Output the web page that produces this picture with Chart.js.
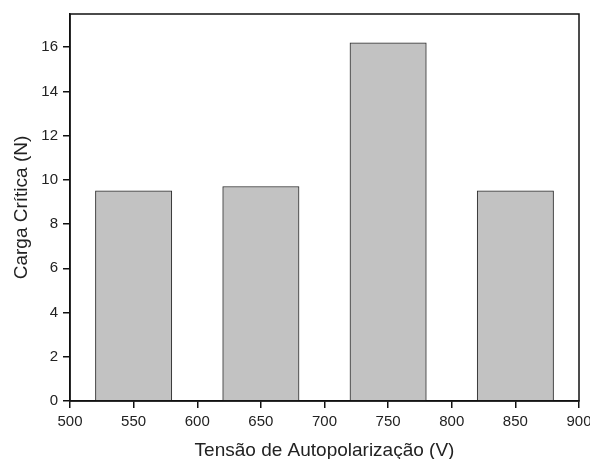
<!DOCTYPE html>
<html>
<head>
<meta charset="utf-8">
<script src="https://cdn.jsdelivr.net/npm/chart.js@4"></script>
<style>
  html, body { margin: 0; padding: 0; background: #fff; }
  #wrap { width: 590px; height: 459px; }
</style>
</head>
<body>
<div id="wrap"><canvas id="chart" width="590" height="459"></canvas></div>
<script>
// data
const voltages = [550, 650, 750, 850];
const criticalLoad = [9.5, 9.7, 16.2, 9.5];
const xTicks = [500, 550, 600, 650, 700, 750, 800, 850, 900];
const yTicks = [0, 2, 4, 6, 8, 10, 12, 14, 16];

const FONT = "'Liberation Sans', Arial, sans-serif";

// full box around the plot area
const frame = {
  id: 'frame',
  afterDraw(chart) {
    const { ctx, chartArea: a } = chart;
    ctx.save();
    ctx.strokeStyle = '#111';
    ctx.lineWidth = 1.5;
    ctx.strokeRect(a.left, a.top, a.right - a.left, a.bottom - a.top);
    ctx.restore();
  }
};

new Chart(document.getElementById('chart'), {
  type: 'bar',
  data: {
    datasets: [{
      data: voltages.map((v, i) => ({ x: v, y: criticalLoad[i] })),
      backgroundColor: '#c2c2c2',
      borderColor: '#2a2a2a',
      borderWidth: 1,
      barThickness: 'flex',
      categoryPercentage: 1,
      barPercentage: 0.6
    }]
  },
  options: {
    responsive: false,
    animation: false,
    layout: { padding: { top: 14, right: 11, left: 0, bottom: 0 } },
    plugins: { legend: { display: false }, tooltip: { enabled: false } },
    scales: {
      x: {
        type: 'linear',
        offset: false,
        min: 500, max: 900,
        afterBuildTicks: ax => { ax.ticks = xTicks.map(v => ({ value: v })); },
        afterFit: ax => { ax.height = 58; ax.paddingRight = 0; ax.paddingLeft = 0; },
        grid: { offset: false, drawOnChartArea: false, color: '#111', tickLength: 7, lineWidth: 1.5 },
        border: { color: '#111', width: 1.5 },
        ticks: { color: '#222', font: { family: FONT, size: 15 }, padding: 5, maxRotation: 0 },
        title: { display: true, text: 'Tensão de Autopolarização (V)', color: '#222',
                 font: { family: FONT, size: 19 }, padding: { top: 2, bottom: -3 } }
      },
      y: {
        min: 0, max: 17.5,
        afterBuildTicks: ax => { ax.ticks = yTicks.map(v => ({ value: v })); },
        afterFit: ax => { ax.width = 70; },
        grid: { drawOnChartArea: false, color: '#111', tickLength: 7, lineWidth: 1.5 },
        border: { color: '#111', width: 1.5 },
        ticks: { color: '#222', font: { family: FONT, size: 15 }, padding: 5 },
        title: { display: true, text: 'Carga Crítica (N)', color: '#222',
                 font: { family: FONT, size: 19 }, padding: { top: 10, bottom: 4 } }
      }
    }
  },
  plugins: [frame]
});
</script>
</body>
</html>
